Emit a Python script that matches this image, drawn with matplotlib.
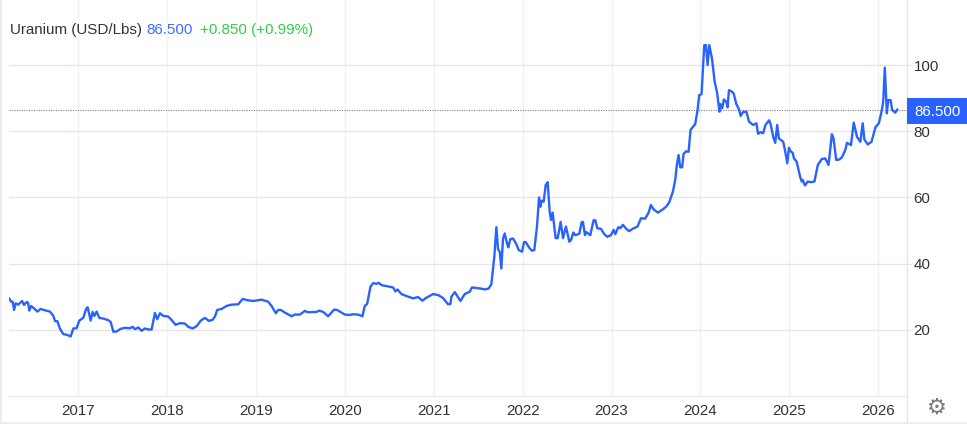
import matplotlib
matplotlib.use('Agg')
from matplotlib import pyplot as plt
from matplotlib.lines import Line2D
from matplotlib.patches import Rectangle

plt.rcParams['font.family'] = ['Liberation Sans', 'DejaVu Sans']

years = [
    2016.220, 2016.243, 2016.262, 2016.277, 2016.295, 2016.325, 2016.367, 2016.389, 2016.419, 2016.434,
    2016.449, 2016.468, 2016.505, 2016.539, 2016.576, 2016.625, 2016.681, 2016.719, 2016.738, 2016.764,
    2016.794, 2016.831, 2016.869, 2016.914, 2016.944, 2016.981, 2017.011, 2017.056, 2017.086, 2017.105,
    2017.139, 2017.161, 2017.180, 2017.206, 2017.236, 2017.281, 2017.337, 2017.364, 2017.394, 2017.431,
    2017.476, 2017.525, 2017.581, 2017.611, 2017.637, 2017.675, 2017.712, 2017.750, 2017.787, 2017.825,
    2017.862, 2017.888, 2017.918, 2017.956, 2018.012, 2018.049, 2018.094, 2018.143, 2018.199, 2018.237,
    2018.286, 2018.331, 2018.379, 2018.424, 2018.469, 2018.510, 2018.537, 2018.563, 2018.612, 2018.668,
    2018.724, 2018.799, 2018.848, 2018.912, 2018.968, 2019.061, 2019.136, 2019.174, 2019.223, 2019.249,
    2019.279, 2019.324, 2019.399, 2019.436, 2019.493, 2019.549, 2019.586, 2019.680, 2019.710, 2019.755,
    2019.811, 2019.879, 2019.912, 2019.999, 2020.055, 2020.092, 2020.148, 2020.197, 2020.223, 2020.250,
    2020.287, 2020.317, 2020.355, 2020.381, 2020.411, 2020.486, 2020.542, 2020.568, 2020.591, 2020.636,
    2020.692, 2020.767, 2020.823, 2020.872, 2020.917, 2020.992, 2021.048, 2021.104, 2021.160, 2021.187,
    2021.198, 2021.236, 2021.300, 2021.348, 2021.404, 2021.430, 2021.517, 2021.580, 2021.618, 2021.648,
    2021.681, 2021.704, 2021.723, 2021.742, 2021.760, 2021.779, 2021.798, 2021.824, 2021.839, 2021.861,
    2021.891, 2021.929, 2021.955, 2021.993, 2022.015, 2022.034, 2022.079, 2022.105, 2022.131, 2022.161,
    2022.184, 2022.199, 2022.214, 2022.236, 2022.259, 2022.281, 2022.304, 2022.319, 2022.337, 2022.371,
    2022.394, 2022.427, 2022.454, 2022.487, 2022.525, 2022.544, 2022.570, 2022.592, 2022.637, 2022.664,
    2022.678, 2022.701, 2022.716, 2022.761, 2022.798, 2022.817, 2022.840, 2022.881, 2022.918, 2022.952,
    2022.993, 2023.023, 2023.042, 2023.076, 2023.098, 2023.128, 2023.162, 2023.199, 2023.237, 2023.293,
    2023.331, 2023.379, 2023.417, 2023.443, 2023.473, 2023.522, 2023.567, 2023.615, 2023.649, 2023.690,
    2023.717, 2023.735, 2023.754, 2023.773, 2023.795, 2023.810, 2023.837, 2023.867, 2023.889, 2023.942,
    2023.968, 2023.987, 2024.013, 2024.043, 2024.062, 2024.081, 2024.100, 2024.130, 2024.160, 2024.186,
    2024.215, 2024.226, 2024.245, 2024.264, 2024.291, 2024.306, 2024.321, 2024.347, 2024.374, 2024.404,
    2024.434, 2024.453, 2024.479, 2024.517, 2024.547, 2024.592, 2024.630, 2024.649, 2024.675, 2024.706,
    2024.732, 2024.774, 2024.792, 2024.819, 2024.842, 2024.864, 2024.883, 2024.932, 2024.955, 2024.977,
    2024.996, 2025.019, 2025.038, 2025.053, 2025.083, 2025.121, 2025.140, 2025.151, 2025.177, 2025.208,
    2025.242, 2025.283, 2025.321, 2025.366, 2025.404, 2025.442, 2025.479, 2025.498, 2025.528, 2025.566,
    2025.592, 2025.630, 2025.649, 2025.694, 2025.725, 2025.762, 2025.800, 2025.826, 2025.845, 2025.883,
    2025.925, 2025.970, 2026.008, 2026.038, 2026.057, 2026.075, 2026.098, 2026.113, 2026.140, 2026.158,
    2026.192, 2026.215,
]
prices = [
    29.5, 28.5, 28.5, 26.0, 28.0, 27.6, 28.7, 27.5, 28.4, 28.2,
    25.8, 27.2, 26.4, 25.5, 26.3, 25.9, 25.5, 24.2, 22.6, 22.6,
    20.3, 18.7, 18.5, 18.0, 20.4, 20.5, 22.8, 23.6, 26.2, 26.8,
    22.8, 25.4, 24.2, 25.5, 23.6, 23.4, 22.9, 22.4, 19.4, 19.5,
    20.3, 20.6, 20.5, 20.9, 20.2, 20.7, 19.7, 20.4, 20.1, 20.1,
    25.1, 23.2, 25.0, 24.2, 24.0, 23.0, 21.5, 22.0, 21.9, 20.9,
    20.4, 21.1, 22.8, 23.6, 22.7, 23.0, 24.0, 26.0, 26.3, 27.2,
    27.6, 27.7, 29.3, 28.9, 28.7, 29.1, 28.5, 27.2, 25.0, 26.0,
    26.0, 25.2, 24.1, 24.6, 24.6, 25.7, 25.3, 25.4, 25.8, 25.4,
    24.1, 26.1, 26.0, 24.6, 24.5, 24.7, 24.6, 24.1, 27.2, 27.8,
    33.0, 34.1, 33.9, 34.2, 33.5, 33.1, 32.8, 31.6, 32.2, 30.8,
    30.2, 29.5, 29.9, 28.8, 29.7, 30.8, 30.5, 29.6, 27.7, 27.8,
    30.0, 31.4, 28.7, 30.8, 31.5, 32.8, 32.5, 32.2, 32.5, 33.8,
    42.1, 51.0, 44.3, 43.6, 38.5, 47.6, 49.1, 46.1, 44.9, 47.4,
    47.6, 45.9, 44.1, 43.6, 46.5, 46.5, 44.6, 43.9, 44.1, 51.2,
    60.0, 57.2, 59.0, 58.7, 63.7, 64.6, 55.7, 53.2, 55.4, 47.7,
    47.7, 52.6, 47.7, 51.2, 46.6, 47.1, 49.4, 48.6, 49.0, 52.5,
    52.6, 48.6, 49.5, 48.6, 53.1, 53.1, 50.7, 50.5, 48.9, 48.1,
    48.6, 50.2, 48.9, 51.0, 50.7, 51.7, 50.6, 49.8, 50.5, 51.2,
    53.7, 53.6, 55.4, 57.7, 56.4, 55.4, 56.2, 57.2, 58.5, 61.7,
    65.3, 69.8, 72.8, 69.1, 69.1, 73.1, 73.9, 73.8, 80.4, 82.2,
    86.4, 90.9, 91.2, 106.0, 106.0, 100.0, 106.0, 102.0, 95.0, 91.9,
    85.9, 88.2, 86.9, 89.6, 88.9, 87.2, 92.4, 92.1, 91.4, 88.2,
    86.6, 84.6, 85.8, 85.9, 82.9, 81.9, 82.4, 79.2, 79.7, 79.4,
    81.9, 83.3, 81.9, 78.3, 76.5, 81.9, 77.8, 76.8, 73.8, 70.3,
    75.0, 73.8, 73.5, 71.8, 70.8, 66.3, 64.8, 65.3, 63.6, 64.8,
    64.6, 64.8, 69.8, 71.6, 71.8, 69.8, 79.1, 77.8, 71.3, 71.5,
    72.1, 74.3, 76.5, 75.8, 82.6, 78.3, 76.8, 82.4, 77.5, 76.0,
    76.8, 81.2, 82.4, 85.9, 88.9, 99.2, 85.4, 89.4, 89.4, 86.4,
    85.6, 86.5,
]
year_ticks = [2017, 2018, 2019, 2020, 2021, 2022, 2023, 2024, 2025, 2026]
price_ticks = [20, 40, 60, 80, 100]
last_price = 86.5

W, H = 967, 424
BLUE = '#2962ff'
GRID_H = '#e6e6e6'
GRID_V = '#f0f3f6'
TEXT = '#333333'
FS = 10.9


def fx(px):
    return px / W


def fy(py):
    return 1 - py / H


fig = plt.figure(figsize=(W / 100, H / 100), dpi=100)
ax = fig.add_axes([fx(9), fy(396), fx(897.5), 396 / H])

ax.plot(years, prices, color=BLUE, linewidth=1.7, solid_joinstyle='round', zorder=3)
ax.axhline(last_price, color='#808080', linewidth=0.8, linestyle=(0, (1, 1.2)), zorder=2)

ax.set_xlim(2016.220, 2026.319)
ax.set_ylim(0, 119.64)
ax.set_xticks(year_ticks)
ax.set_yticks(price_ticks)
ax.yaxis.tick_right()
ax.tick_params(axis='x', length=0, pad=6, labelsize=FS, labelcolor=TEXT)
ax.tick_params(axis='y', length=3.6, width=0.8, color=GRID_H, pad=1.6, labelsize=FS, labelcolor=TEXT)
ax.xaxis.grid(True, color=GRID_V, linewidth=1)
ax.yaxis.grid(True, color=GRID_H, linewidth=1)
ax.set_axisbelow(True)
for side in ['top', 'left']:
    ax.spines[side].set_visible(False)
ax.spines['bottom'].set_color(GRID_H)
ax.spines['right'].set_visible(False)

# frame bits outside the plot area
fig.add_artist(Line2D([fx(906.5), fx(906.5)], [0, 1], color=GRID_H, linewidth=1))
fig.add_artist(Line2D([fx(0.8), fx(0.8)], [0, 1], color='#e9ebf0', linewidth=1.2))
fig.add_artist(Line2D([0, 1], [fy(422.7), fy(422.7)], color='#e9ebf0', linewidth=1.2))

# last price tag
fig.add_artist(Rectangle((fx(906.7), fy(124)), fx(60.3), 26 / H, transform=fig.transFigure,
                         facecolor=BLUE, edgecolor='none', zorder=5))
fig.text(fx(914), fy(111.5), '86.500', color='white', fontsize=FS, va='center', ha='left', zorder=6)

# header
fig.text(fx(10), fy(30), 'Uranium (USD/Lbs)', color=TEXT, fontsize=FS, va='center')
fig.text(fx(146), fy(30), '86.500', color='#3d6bff', fontsize=FS, va='center')
fig.text(fx(200), fy(30), '+0.850 (+0.99%)', color='#2fcf4a', fontsize=FS, va='center')

# settings icon
fig.text(fx(937), fy(408), '\u2699', color='#777777', fontsize=16, ha='center', va='center',
         family='DejaVu Sans')

fig.savefig('out.png', dpi=100)
